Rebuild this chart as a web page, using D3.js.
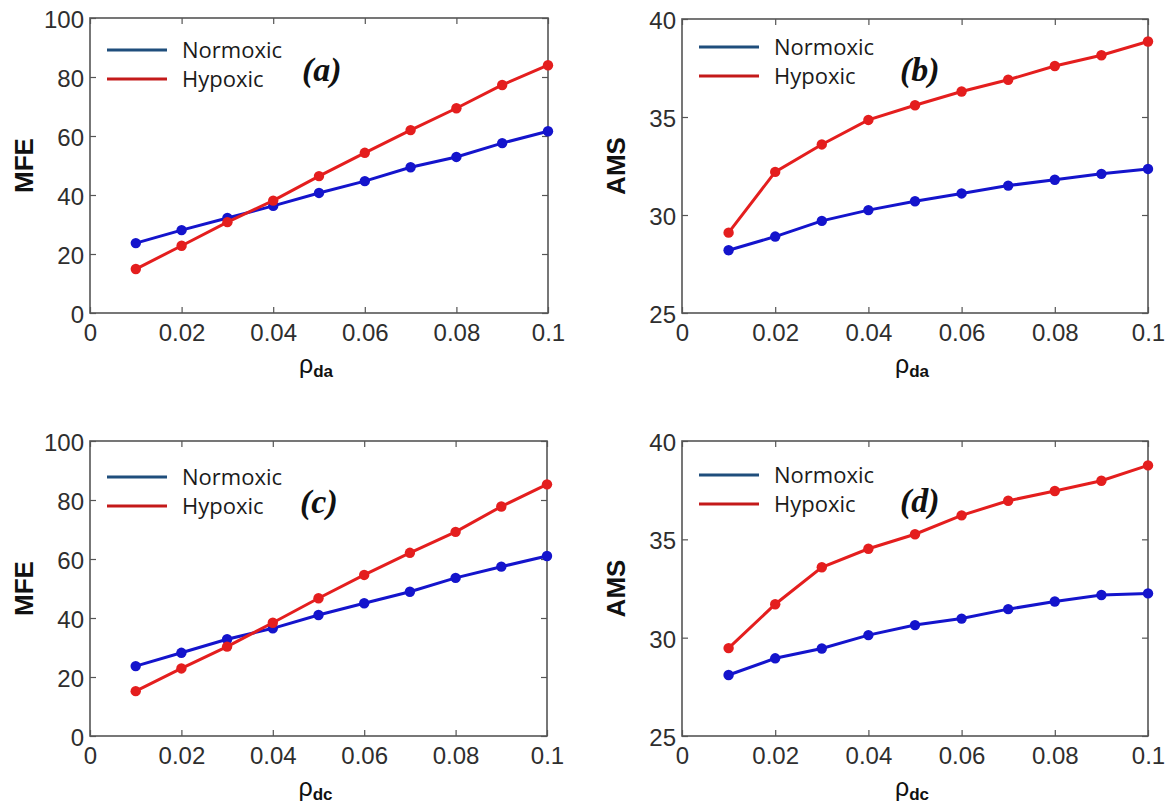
<!DOCTYPE html>
<html>
<head>
<meta charset="utf-8">
<script src="https://cdn.jsdelivr.net/npm/d3@7"></script>
<style>
  body { margin: 0; background: #fff; }
  svg { display: block; }
</style>
</head>
<body>
<svg id="chart" width="1167" height="806"></svg>
<script>
// rho values on the x axis
const rhoValues = [0.01, 0.02, 0.03, 0.04, 0.05, 0.06, 0.07, 0.08, 0.09, 0.1];
const xTicks = [0, 0.02, 0.04, 0.06, 0.08, 0.1];
const mfeTicks = [0, 20, 40, 60, 80, 100];
const amsTicks = [25, 30, 35, 40];
const seriesNames = ["Normoxic", "Hypoxic"];
const panelLabels = ["(a)", "(b)", "(c)", "(d)"];
const yTitles = ["MFE", "AMS", "MFE", "AMS"];
const xSubscripts = ["da", "da", "dc", "dc"];

// (a) MFE vs rho_da
const normoxicA = [23.7, 28.1, 32.2, 36.3, 40.7, 44.7, 49.4, 52.9, 57.6, 61.6];
const hypoxicA = [14.9, 22.8, 30.8, 38.1, 46.4, 54.3, 62.0, 69.4, 77.3, 84.0];
// (b) AMS vs rho_da
const normoxicB = [28.2, 28.9, 29.7, 30.25, 30.7, 31.1, 31.5, 31.8, 32.1, 32.35];
const hypoxicB = [29.1, 32.2, 33.6, 34.85, 35.6, 36.3, 36.9, 37.6, 38.15, 38.85];
// (c) MFE vs rho_dc
const normoxicC = [23.7, 28.2, 32.8, 36.5, 41.0, 45.0, 48.9, 53.6, 57.4, 61.0];
const hypoxicC = [15.2, 22.9, 30.3, 38.4, 46.7, 54.6, 62.1, 69.2, 77.8, 85.3];
// (d) AMS vs rho_dc
const normoxicD = [28.1, 28.95, 29.45, 30.13, 30.64, 30.97, 31.45, 31.84, 32.17, 32.25];
const hypoxicD = [29.47, 31.7, 33.58, 34.52, 35.26, 36.22, 36.96, 37.46, 37.98, 38.76];

const lineColors = ["#1414cc", "#e41e1e"];
const legendColors = ["#1f4e7c", "#c41a1a"];

// panel boxes in pixels
const panels = [
  {left: 90, top: 18, right: 548, bottom: 313, yDomain: [0, 100], yTicks: mfeTicks, data: [normoxicA, hypoxicA], legY: [50, 79], labX: 302, labY: 81},
  {left: 682, top: 19, right: 1148, bottom: 313, yDomain: [25, 40], yTicks: amsTicks, data: [normoxicB, hypoxicB], legY: [47, 76], labX: 900, labY: 81},
  {left: 90, top: 441, right: 547, bottom: 736, yDomain: [0, 100], yTicks: mfeTicks, data: [normoxicC, hypoxicC], legY: [477, 506], labX: 300, labY: 513},
  {left: 682, top: 441, right: 1148, bottom: 736, yDomain: [25, 40], yTicks: amsTicks, data: [normoxicD, hypoxicD], legY: [475, 504], labX: 900, labY: 512}
];

const svg = d3.select("#chart");
const tickFont = "'Liberation Sans', Arial, sans-serif";

panels.forEach(function (p, i) {
  let g = svg.append("g");

  let x = d3.scaleLinear().domain([0, 0.1]).range([p.left, p.right]);
  let y = d3.scaleLinear().domain(p.yDomain).range([p.bottom, p.top]);

  let fmtX = function (d) { return d === 0 ? "0" : d3.format("~g")(d); };

  // bottom axis with labels, ticks pointing inward
  g.append("g")
    .attr("transform", `translate(0, ${p.bottom})`)
    .call(d3.axisBottom(x).tickValues(xTicks).tickFormat(fmtX).tickSize(-6).tickPadding(11));
  // top axis, ticks only
  g.append("g")
    .attr("transform", `translate(0, ${p.top})`)
    .call(d3.axisTop(x).tickValues(xTicks).tickFormat("").tickSize(-6));
  // left axis with labels
  let yAxis = g.append("g")
    .attr("transform", `translate(${p.left}, 0)`)
    .call(d3.axisLeft(y).tickValues(p.yTicks).tickSize(-6).tickPadding(6));
  // right axis ticks only
  g.append("g")
    .attr("transform", `translate(${p.right}, 0)`)
    .call(d3.axisRight(y).tickValues(p.yTicks).tickFormat("").tickSize(-6));

  g.selectAll(".domain").remove();
  g.selectAll(".tick line").attr("stroke", "#555").attr("stroke-width", 1.2);
  g.selectAll(".tick text")
    .attr("font-family", tickFont)
    .attr("font-size", 24)
    .attr("fill", "#2e2e2e");
  yAxis.selectAll(".tick text").attr("dy", "0.4em");

  // frame
  g.append("rect")
    .attr("x", p.left)
    .attr("y", p.top)
    .attr("width", p.right - p.left)
    .attr("height", p.bottom - p.top)
    .attr("fill", "none")
    .attr("stroke", "#555")
    .attr("stroke-width", 1.6);

  // series
  let line = d3.line()
    .x(function (d, j) { return x(rhoValues[j]); })
    .y(function (d) { return y(d); });

  p.data.forEach(function (vals, s) {
    g.append("path")
      .datum(vals)
      .attr("d", line)
      .attr("fill", "none")
      .attr("stroke", lineColors[s])
      .attr("stroke-width", 3);
    g.selectAll(".m" + s)
      .data(vals)
      .join("circle")
      .attr("class", "m" + s)
      .attr("cx", function (d, j) { return x(rhoValues[j]); })
      .attr("cy", function (d) { return y(d); })
      .attr("r", 5.2)
      .attr("fill", lineColors[s]);
  });

  // legend
  seriesNames.forEach(function (name, s) {
    g.append("line")
      .attr("x1", p.left + 17)
      .attr("x2", p.left + 77)
      .attr("y1", p.legY[s])
      .attr("y2", p.legY[s])
      .attr("stroke", legendColors[s])
      .attr("stroke-width", 3);
    g.append("text")
      .attr("x", p.left + 92)
      .attr("y", p.legY[s] + 8)
      .attr("font-family", "'Open Sans', sans-serif")
      .attr("font-size", 22)
      .attr("fill", "#1a1a1a")
      .text(name);
  });

  // panel letter
  g.append("text")
    .attr("x", p.labX)
    .attr("y", p.labY)
    .attr("font-family", "'Liberation Serif', 'Times New Roman', serif")
    .attr("font-size", 34)
    .attr("font-weight", "bold")
    .attr("font-style", "italic")
    .attr("fill", "#111")
    .text(panelLabels[i]);

  // y title
  let cy = (p.top + p.bottom) / 2;
  g.append("text")
    .attr("transform", `translate(${p.left - 57}, ${cy}) rotate(-90)`)
    .attr("text-anchor", "middle")
    .attr("font-family", tickFont)
    .attr("font-size", 26)
    .attr("font-weight", "bold")
    .attr("fill", "#111")
    .text(yTitles[i]);

  // x title: rho with bold subscript
  let xt = g.append("text")
    .attr("x", (p.left + p.right) / 2 - 3)
    .attr("y", p.bottom + 60)
    .attr("text-anchor", "middle")
    .attr("font-family", tickFont)
    .attr("fill", "#111");
  xt.append("tspan").attr("font-size", 25).text("ρ");
  xt.append("tspan")
    .attr("font-size", 17)
    .attr("font-weight", "bold")
    .attr("dy", 4)
    .text(xSubscripts[i]);
});
</script>
</body>
</html>
